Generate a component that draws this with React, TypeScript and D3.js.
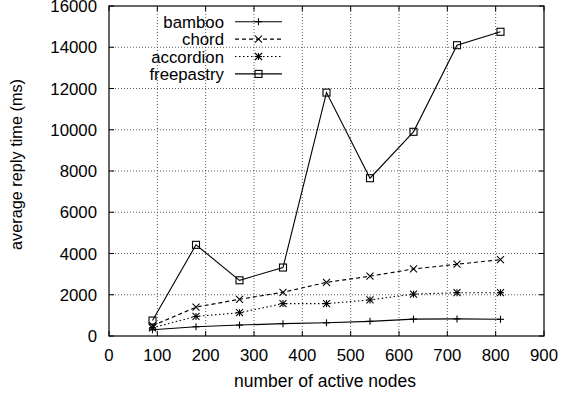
import { useEffect, useRef } from "react";
import * as d3 from "d3";

const nodes = [90, 180, 270, 360, 450, 540, 630, 720, 810];
const bamboo = [300, 450, 530, 600, 640, 710, 820, 830, 810];
const chord = [500, 1400, 1780, 2120, 2600, 2900, 3250, 3480, 3700];
const accordion = [400, 950, 1130, 1570, 1570, 1750, 2030, 2100, 2100];
const freepastry = [750, 4420, 2700, 3320, 11800, 7650, 9900, 14100, 14750];

const xTicks = d3.range(0, 901, 100);
const yTicks = d3.range(0, 16001, 2000);

const series = [
  { name: "bamboo", values: bamboo, dash: "none", marker: "plus" },
  { name: "chord", values: chord, dash: "4,3", marker: "cross" },
  { name: "accordion", values: accordion, dash: "1.5,2.5", marker: "star" },
  { name: "freepastry", values: freepastry, dash: "none", marker: "square" },
];

export default function App() {
  const svgRef = useRef<SVGSVGElement | null>(null);
  const width = 562;
  const height = 398;
  const margin = { left: 109, right: 18, top: 6, bottom: 62 };

  useEffect(() => {
    const svg = d3.select(svgRef.current);
    svg.selectAll("*").remove();
    const font = "'Liberation Sans', Arial, sans-serif";
    const fs = 16.8;

    const x = d3.scaleLinear().domain([0, 900]).range([margin.left, width - margin.right]);
    const y = d3.scaleLinear().domain([0, 16000]).range([height - margin.bottom, margin.top]);
    const [x0, x1] = x.range();
    const [y0, y1] = y.range();

    // grid
    const grid = svg.append("g").attr("stroke", "#333").attr("stroke-width", 0.8).attr("stroke-dasharray", "1,2");
    xTicks.slice(1, -1).forEach((t) => {
      grid.append("line").attr("x1", x(t)).attr("x2", x(t)).attr("y1", y0).attr("y2", y1);
    });
    yTicks.slice(1, -1).forEach((t) => {
      grid.append("line").attr("x1", x0).attr("x2", x1).attr("y1", y(t)).attr("y2", y(t));
    });

    // ticks (inward, mirrored)
    const ticks = svg.append("g").attr("stroke", "#000").attr("stroke-width", 1);
    xTicks.forEach((t) => {
      ticks.append("line").attr("x1", x(t)).attr("x2", x(t)).attr("y1", y0).attr("y2", y0 - 5);
      ticks.append("line").attr("x1", x(t)).attr("x2", x(t)).attr("y1", y1).attr("y2", y1 + 5);
    });
    yTicks.forEach((t) => {
      ticks.append("line").attr("x1", x0).attr("x2", x0 + 5).attr("y1", y(t)).attr("y2", y(t));
      ticks.append("line").attr("x1", x1).attr("x2", x1 - 5).attr("y1", y(t)).attr("y2", y(t));
    });

    svg.append("rect")
      .attr("x", x0).attr("y", y1).attr("width", x1 - x0).attr("height", y0 - y1)
      .attr("fill", "none").attr("stroke", "#000").attr("stroke-width", 1.2);

    // tick labels
    const labels = svg.append("g").attr("font-family", font).attr("font-size", fs).attr("fill", "#000");
    xTicks.forEach((t) => {
      labels.append("text").attr("x", x(t)).attr("y", y0 + 25).attr("text-anchor", "middle").text(t);
    });
    yTicks.forEach((t) => {
      labels.append("text").attr("x", x0 - 12).attr("y", y(t) + 6).attr("text-anchor", "end").text(t);
    });

    labels.append("text").attr("x", 325).attr("y", y0 + 51).attr("text-anchor", "middle")
      .attr("font-size", 17.5).text("number of active nodes");
    labels.append("text")
      .attr("transform", `translate(21.5,164.5) rotate(-90)`)
      .attr("text-anchor", "middle").attr("font-size", 16.3).text("average reply time (ms)");

    const drawMarker = (g: any, type: string, cx: number, cy: number) => {
      const s = 3.5;
      if (type === "plus" || type === "star") {
        g.append("line").attr("x1", cx - s).attr("x2", cx + s).attr("y1", cy).attr("y2", cy);
        g.append("line").attr("x1", cx).attr("x2", cx).attr("y1", cy - s).attr("y2", cy + s);
      }
      if (type === "cross" || type === "star") {
        g.append("line").attr("x1", cx - s).attr("x2", cx + s).attr("y1", cy - s).attr("y2", cy + s);
        g.append("line").attr("x1", cx - s).attr("x2", cx + s).attr("y1", cy + s).attr("y2", cy - s);
      }
      if (type === "square") {
        g.append("rect").attr("x", cx - s).attr("y", cy - s).attr("width", 2 * s).attr("height", 2 * s)
          .attr("fill", "none");
      }
    };

    const line = d3.line<number>().x((_, i) => x(nodes[i])).y((d) => y(d));

    series.forEach((s, k) => {
      const g = svg.append("g").attr("stroke", "#000").attr("stroke-width", 1.1).attr("fill", "none");
      g.append("path").attr("d", line(s.values)).attr("stroke-dasharray", s.dash);
      const mg = g.append("g").attr("stroke-dasharray", "none");
      s.values.forEach((v, i) => drawMarker(mg, s.marker, x(nodes[i]), y(v)));

      // legend
      const ly = 21.7 + k * 17.4;
      svg.append("text").attr("x", 224).attr("y", ly + 6).attr("text-anchor", "end")
        .attr("font-family", font).attr("font-size", fs).text(s.name);
      g.append("line").attr("x1", 235).attr("x2", 282).attr("y1", ly).attr("y2", ly)
        .attr("stroke-dasharray", s.dash);
      drawMarker(mg, s.marker, 258.5, ly);
    });
  }, []);

  return (
    <svg
      ref={svgRef}
      width={width}
      height={height}
      style={{ position: "absolute", left: 0, top: 0, background: "#fff" }}
    />
  );
}
